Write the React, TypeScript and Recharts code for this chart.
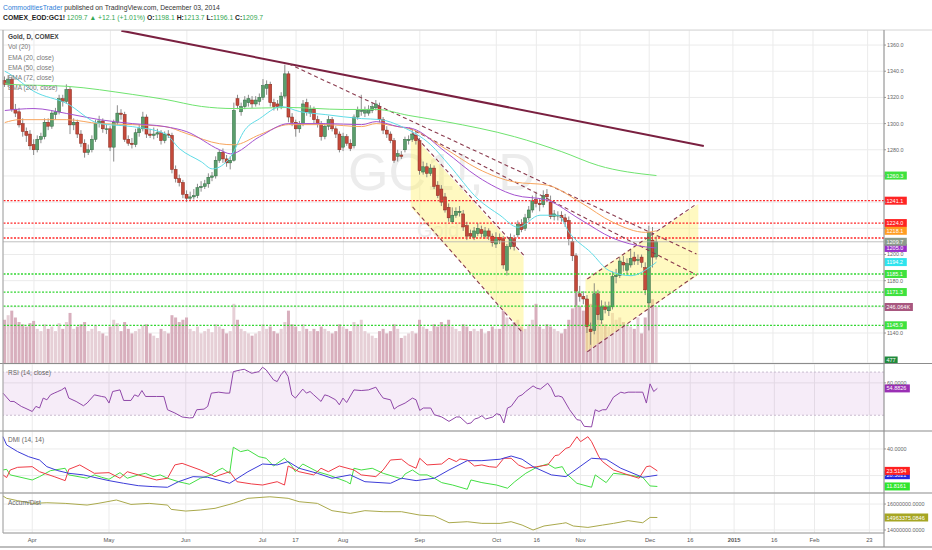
import React from 'react'
import {
  ComposedChart,
  Bar,
  Line,
  XAxis,
  YAxis,
  CartesianGrid,
  ReferenceLine,
  ReferenceArea,
  Cell,
} from 'recharts'

const FONT = '"Liberation Sans", Arial, sans-serif'
const W = 932
const SLOTS = 242
const PRICE_DOMAIN: [number, number] = [1117.1, 1371.5]
const VOL_DOMAIN: [number, number] = [0, 1463]

// daily candles, Mar 20 2014 .. Dec 3 2014
const opens = [
  1333, 1330, 1334, 1311, 1309, 1300, 1294, 1292, 1284, 1280,
  1288, 1290, 1301, 1298, 1307, 1309, 1319, 1317, 1326, 1299,
  1301, 1292, 1285, 1278, 1280, 1288, 1300, 1302, 1296, 1296,
  1282, 1301, 1308, 1307, 1288, 1285, 1284, 1293, 1296, 1305,
  1292, 1291, 1292, 1293, 1287, 1292, 1291, 1265, 1258, 1255,
  1246, 1243, 1244, 1245, 1251, 1252, 1254, 1259, 1260, 1272,
  1278, 1273, 1270, 1272, 1319, 1309, 1313, 1316, 1318, 1315,
  1317, 1320, 1327, 1330, 1316, 1315, 1313, 1321, 1338, 1305,
  1301, 1296, 1300, 1316, 1308, 1311, 1303, 1300, 1290, 1298,
  1303, 1296, 1292, 1282, 1290, 1285, 1283, 1305, 1310, 1308,
  1308, 1310, 1312, 1313, 1303, 1295, 1292, 1287, 1275, 1276,
  1280, 1287, 1288, 1291, 1287, 1263, 1267, 1262, 1266, 1253,
  1250, 1244, 1236, 1225, 1230, 1232, 1231, 1222, 1216, 1213,
  1216, 1219, 1214, 1218, 1214, 1208, 1213, 1212, 1188, 1206,
  1212, 1215, 1223, 1220, 1228, 1234, 1242, 1239, 1238, 1246,
  1240, 1229, 1230, 1230, 1228, 1226, 1210, 1199, 1170, 1168,
  1166, 1143, 1142, 1170, 1150, 1160, 1157, 1160, 1183, 1184,
  1194, 1188, 1192, 1198, 1196, 1198, 1190, 1163, 1211, 1198.1,
]
const highs = [
  1336, 1337, 1336, 1315, 1312, 1304, 1297, 1295, 1288, 1291,
  1293, 1304, 1304, 1310, 1312, 1322, 1322, 1330, 1328, 1304,
  1303, 1295, 1288, 1284, 1291, 1303, 1306, 1304, 1299, 1298,
  1303, 1314, 1311, 1309, 1291, 1289, 1296, 1299, 1309, 1307,
  1296, 1297, 1296, 1295, 1294, 1295, 1293, 1268, 1261, 1257,
  1249, 1248, 1250, 1254, 1256, 1257, 1262, 1263, 1275, 1280,
  1281, 1276, 1275, 1316, 1322, 1316, 1321, 1322, 1321, 1321,
  1323, 1334, 1333, 1332, 1319, 1318, 1324, 1345, 1340, 1308,
  1303, 1302, 1318, 1319, 1314, 1313, 1306, 1302, 1300, 1306,
  1305, 1298, 1294, 1293, 1292, 1288, 1307, 1313, 1322, 1313,
  1314, 1316, 1318, 1316, 1305, 1298, 1294, 1289, 1280, 1279,
  1290, 1291, 1296, 1294, 1289, 1271, 1270, 1269, 1268, 1256,
  1253, 1247, 1239, 1236, 1236, 1237, 1234, 1225, 1219, 1221,
  1224, 1222, 1221, 1220, 1216, 1217, 1216, 1214, 1208, 1216,
  1215, 1226, 1227, 1231, 1237, 1245, 1248, 1243, 1249, 1250,
  1245, 1234, 1233, 1233, 1231, 1229, 1213, 1201, 1176, 1172,
  1169, 1148, 1178, 1173, 1165, 1164, 1164, 1187, 1189, 1198,
  1199, 1197, 1204, 1202, 1200, 1200, 1194, 1222, 1221, 1213.7,
]
const lows = [
  1328, 1328, 1309, 1305, 1297, 1290, 1286, 1280, 1276, 1278,
  1285, 1288, 1295, 1296, 1303, 1307, 1313, 1315, 1292, 1295,
  1289, 1282, 1274, 1276, 1278, 1286, 1297, 1293, 1292, 1279,
  1271, 1299, 1303, 1286, 1283, 1281, 1282, 1290, 1294, 1289,
  1289, 1288, 1289, 1284, 1285, 1289, 1262, 1255, 1252, 1243,
  1240, 1241, 1242, 1243, 1248, 1250, 1251, 1256, 1258, 1270,
  1270, 1267, 1265, 1271, 1311, 1306, 1311, 1313, 1312, 1313,
  1314, 1318, 1322, 1313, 1310, 1310, 1311, 1319, 1301, 1298,
  1290, 1293, 1298, 1306, 1305, 1300, 1297, 1287, 1288, 1295,
  1294, 1289, 1278, 1279, 1283, 1279, 1281, 1303, 1306, 1305,
  1306, 1308, 1310, 1301, 1292, 1289, 1285, 1270, 1271, 1273,
  1278, 1284, 1286, 1284, 1261, 1261, 1259, 1260, 1250, 1243,
  1237, 1232, 1225, 1224, 1228, 1229, 1218, 1211, 1212, 1211,
  1214, 1213, 1212, 1211, 1206, 1205, 1208, 1189, 1184, 1204,
  1203, 1213, 1217, 1218, 1226, 1232, 1236, 1233, 1236, 1240,
  1227, 1226, 1226, 1225, 1221, 1207, 1195, 1161, 1164, 1162,
  1140, 1131, 1139, 1150, 1147, 1155, 1153, 1158, 1178, 1182,
  1187, 1185, 1190, 1192, 1192, 1190, 1169, 1142, 1190, 1196.1,
]
const closes = [
  1330, 1334, 1311, 1308, 1299, 1294, 1291, 1283, 1280, 1288,
  1290, 1301, 1298, 1308, 1309, 1319, 1317, 1326, 1299, 1301,
  1292, 1285, 1278, 1280, 1288, 1300, 1302, 1296, 1296, 1282,
  1301, 1308, 1307, 1288, 1285, 1284, 1293, 1296, 1305, 1292,
  1291, 1292, 1293, 1287, 1292, 1291, 1265, 1258, 1255, 1246,
  1243, 1244, 1245, 1251, 1252, 1254, 1259, 1260, 1272, 1278,
  1273, 1270, 1272, 1310, 1314, 1313, 1318, 1319, 1315, 1318,
  1320, 1329, 1330, 1316, 1313, 1313, 1321, 1338, 1305, 1301,
  1296, 1300, 1315, 1309, 1311, 1303, 1300, 1290, 1298, 1303,
  1296, 1292, 1280, 1290, 1285, 1281, 1305, 1310, 1310, 1310,
  1311, 1313, 1315, 1303, 1295, 1292, 1287, 1272, 1277, 1275,
  1288, 1288, 1292, 1287, 1264, 1267, 1262, 1266, 1252, 1245,
  1240, 1234, 1228, 1230, 1233, 1233, 1221, 1214, 1214, 1218,
  1220, 1216, 1218, 1214, 1209, 1213, 1211, 1192, 1206, 1213,
  1206, 1223, 1219, 1228, 1234, 1241, 1239, 1238, 1245, 1244,
  1229, 1231, 1230, 1228, 1225, 1212, 1199, 1172, 1168, 1166,
  1145, 1141, 1170, 1154, 1160, 1158, 1160, 1183, 1184, 1195,
  1192, 1193, 1197, 1195, 1196, 1194, 1173, 1217, 1198, 1209.7,
]
// volume, thousands of contracts
const volumes = [
  190, 210, 230, 200, 180, 170, 160, 175, 185, 150,
  140, 170, 150, 160, 140, 175, 150, 180, 220, 150,
  160, 170, 180, 140, 150, 165, 140, 130, 120, 160,
  190, 175, 140, 180, 150, 130, 140, 150, 165, 170,
  130, 120, 110, 150, 140, 130, 210, 200, 180, 190,
  200, 150, 140, 160, 130, 140, 150, 135, 170, 160,
  150, 130, 140, 260, 190, 150, 140, 130, 120, 130,
  140, 170, 150, 160, 140, 130, 150, 180, 230, 170,
  160, 140, 170, 150, 140, 150, 140, 160, 150, 140,
  130, 140, 170, 160, 150, 140, 180, 170, 190, 140,
  130, 120, 110, 140, 150, 130, 140, 170, 150, 110,
  120, 130, 140, 130, 190, 160, 150, 140, 170, 160,
  180, 170, 190, 160, 150, 140, 170, 160, 140, 150,
  140, 150, 130, 140, 160, 150, 150, 230, 200, 170,
  180, 190, 160, 150, 170, 190, 260, 160, 150, 170,
  160, 150, 140, 130, 150, 190, 240, 310, 250, 230,
  280, 260, 300, 220, 180, 170, 160, 220, 190, 200,
  180, 170, 160, 150, 200, 130, 200, 360, 280, 246.064,
]

// indicator readings: [bar index, value]
const ema20Pts: [number, number][] = [
  [0, 1340], [1, 1338.5], [8, 1324.6], [17, 1315.4], [26, 1300], [35, 1297.7], [44, 1292.3],
  [48, 1280.8], [54, 1270.8], [57, 1265.4], [62, 1274.6], [66, 1295.4], [70, 1303.8], [76, 1313],
  [81, 1309.2], [88, 1306.9], [98, 1303.8], [103, 1303.1], [109, 1297.7], [117, 1283.8],
  [122, 1268.5], [130, 1242.3], [136, 1230], [141, 1220.8], [147, 1230], [152, 1230],
  [155, 1216.9], [161, 1201.5], [166, 1187.7], [172, 1183.8], [177, 1190], [179, 1194.2],
]
const ema50Pts: [number, number][] = [
  [0, 1310], [8, 1311.5], [17, 1307.7], [26, 1303], [35, 1300], [44, 1297.7], [50, 1293.8],
  [59, 1280], [62, 1276.9], [70, 1290], [78, 1300], [88, 1300], [98, 1299.2], [102, 1301.5],
  [108, 1297.7], [112, 1296.2], [121, 1278.5], [130, 1259.2], [140, 1245.4], [149, 1241.5],
  [158, 1226.9], [167, 1212.5], [176, 1205.8], [179, 1205],
]
const ema72Pts: [number, number][] = [
  [0, 1300.8], [4, 1303], [17, 1303], [26, 1300], [35, 1299.2], [44, 1297.7], [50, 1292.3],
  [59, 1284.6], [63, 1283.8], [70, 1291.5], [78, 1299.2], [88, 1299.2], [98, 1297.7], [102, 1300],
  [108, 1297.7], [112, 1295.4], [121, 1280.8], [130, 1265.4], [140, 1255.4], [149, 1253],
  [158, 1240], [167, 1224.6], [176, 1216.9], [179, 1218.1],
]
const ema200Pts: [number, number][] = [
  [0, 1331], [1, 1330], [17, 1328.5], [35, 1322.3], [44, 1318.5], [54, 1313.1], [63, 1311.5],
  [78, 1312.3], [93, 1310.8], [102, 1310.8], [111, 1306.2], [121, 1301.5], [140, 1290],
  [153, 1278.5], [163, 1268], [179, 1260.3],
]
const rsiPts: [number, number][] = [
  [0, 50.5], [2, 42.8], [3, 42.8], [5, 38.2], [6, 36.7], [8, 33.5], [9, 38.2], [10, 36.7], [11, 45.9],
  [12, 44.3], [13, 48.9], [14, 50.5], [15, 52], [16, 53.5], [17, 55.7], [18, 45.9], [20, 42.8],
  [22, 38.8], [23, 41.3], [25, 48.9], [27, 47.4], [28, 46.8], [29, 41.3], [30, 52], [32, 53.5],
  [33, 43.7], [35, 43.7], [36, 48.9], [37, 47.4], [38, 52.9], [39, 47.4], [42, 47.4], [44, 47.4],
  [45, 35.1], [47, 32.1], [49, 28.4], [51, 27.5], [52, 27.8], [53, 35.1], [55, 35.7], [56, 38.2],
  [57, 50.5], [59, 51.4], [61, 50.5], [62, 50.5], [63, 70.4], [65, 72], [66, 72.6], [68, 68.9],
  [70, 70.4], [71, 74.5], [72, 72], [74, 62.8], [75, 61.2], [76, 67.4], [77, 71.3], [78, 65.8],
  [79, 48.9], [80, 45.9], [82, 54.2], [83, 50.5], [84, 52], [85, 48.9], [87, 42.8], [88, 48.9],
  [89, 47.9], [91, 44.3], [92, 39.7], [93, 45.9], [94, 41.8], [96, 53.5], [98, 52.9], [100, 53.5],
  [102, 56], [103, 50.5], [104, 45.9], [106, 44.3], [107, 35.7], [108, 38.2], [110, 41.3],
  [112, 45.9], [113, 44.3], [114, 34.5], [115, 36.7], [117, 36.7], [118, 30.5], [120, 28.4],
  [122, 24.3], [124, 28.4], [125, 28.4], [127, 22.2], [128, 22.8], [129, 26.5], [130, 27.5],
  [131, 29.6], [132, 26.5], [134, 28.4], [135, 31.4], [136, 30.5], [137, 22.8], [138, 36.7],
  [139, 38.2], [141, 47.4], [142, 48.9], [143, 52], [145, 57.2], [146, 55.1], [147, 54.2],
  [149, 59.7], [150, 55.1], [151, 47.4], [152, 47.9], [153, 46.8], [155, 35.1], [157, 25.9],
  [158, 25.3], [159, 19.7], [161, 19.2], [162, 35.1], [163, 33.5], [164, 35.1], [165, 35.1],
  [167, 46.8], [169, 51.4], [170, 50.5], [171, 51.4], [173, 51.4], [175, 51.4], [176, 41.3],
  [177, 59.1], [178, 52], [179, 54.88],
]
const adxPts: [number, number][] = [
  [0, 49.2], [1, 43], [4, 38], [7, 34.2], [10, 31.7], [12, 26.7], [15, 23.7], [18, 21.7], [22, 20.5],
  [26, 18], [29, 16.2], [33, 14.2], [37, 12.4], [41, 11.7], [45, 11.2], [48, 15.4], [52, 19.2],
  [56, 18.7], [62, 14.2], [67, 22.9], [71, 28.7], [75, 28], [78, 30.5], [81, 25.5], [86, 21.7],
  [90, 18], [95, 20.5], [99, 15.4], [106, 14.2], [109, 18], [113, 16.2], [118, 18], [122, 24.2],
  [127, 31.2], [131, 31.2], [136, 32.3], [139, 34.7], [142, 32.3], [145, 26.7], [150, 20.5],
  [154, 19.2], [161, 33], [165, 32.3], [169, 25.5], [175, 18.7], [179, 20.3],
]
const diMinusPts: [number, number][] = [
  [0, 20.5], [1, 18.5], [2, 24.2], [4, 26.2], [8, 26.7], [10, 22.9], [14, 19.2], [17, 16.2],
  [18, 24.7], [21, 28], [25, 21.7], [29, 22.2], [32, 18], [34, 22.9], [37, 20.5], [42, 16.7],
  [45, 18], [47, 28], [49, 29.2], [54, 24.2], [58, 19.2], [62, 22.9], [64, 15.4], [68, 13.7],
  [71, 12.9], [75, 15.4], [77, 12.9], [78, 27.2], [81, 22.9], [85, 20.5], [87, 25.5], [89, 22.9],
  [92, 27.2], [96, 24.2], [98, 20.5], [102, 19.2], [104, 24.2], [106, 31.7], [109, 32.3], [111, 28],
  [113, 25.5], [114, 33], [116, 28], [120, 28.7], [122, 33], [124, 30.5], [125, 32.5], [127, 31.7],
  [129, 27.2], [131, 28], [133, 26.7], [135, 26.2], [137, 33], [139, 33], [141, 28], [143, 25.5],
  [146, 26.7], [149, 28], [151, 35], [152, 35.5], [154, 40.5], [155, 41.3], [157, 49.2], [158, 45.5],
  [160, 49.2], [161, 45.5], [163, 34.2], [164, 30.5], [167, 24.2], [171, 20.5], [174, 18],
  [176, 26.7], [177, 27.2], [179, 23.52],
]
const diPlusPts: [number, number][] = [
  [0, 24.2], [1, 24.7], [2, 20.5], [8, 16.7], [10, 19.2], [13, 23.7], [17, 25.5], [18, 20.5],
  [23, 18], [25, 20.5], [27, 18.7], [29, 17.2], [32, 22.2], [34, 18], [37, 20.5], [39, 21.7],
  [41, 19.2], [43, 20.5], [45, 18], [48, 15.4], [51, 13.5], [54, 18], [57, 20.5], [59, 24.2],
  [60, 25.5], [62, 21.7], [63, 41.3], [65, 38], [67, 39.2], [70, 34.2], [72, 33], [74, 27.2],
  [77, 33], [79, 27.2], [80, 22.9], [82, 28.7], [86, 22.9], [89, 20.5], [94, 15.4], [95, 13.7],
  [96, 25.5], [98, 24.2], [101, 25.5], [104, 21.7], [107, 19.2], [109, 17.5], [110, 21.2],
  [112, 24.2], [114, 20.5], [116, 20.5], [118, 18], [120, 14.7], [123, 12.9], [127, 9.7],
  [128, 16.7], [131, 14.7], [135, 12.9], [138, 10.5], [140, 15.4], [143, 21.7], [146, 26.2],
  [149, 28.7], [151, 25.5], [153, 26.7], [154, 21.7], [157, 14.2], [161, 11.2], [162, 20.5],
  [165, 14.7], [167, 21.7], [171, 20.5], [175, 18.7], [177, 12.2], [179, 11.82],
]
// accumulation / distribution, millions
const adPts: [number, number][] = [
  [0, 16.62], [1, 16.44], [4, 16.26], [8, 16.05], [12, 16.1], [17, 16.05], [23, 15.92], [26, 16.05],
  [31, 16.31], [35, 15.97], [40, 16.05], [45, 15.92], [46, 15.59], [50, 15.46], [54, 15.54],
  [58, 15.67], [63, 16.05], [67, 16.44], [73, 16.56], [78, 16.44], [81, 16.18], [86, 16.05],
  [90, 15.49], [95, 15.28], [99, 15.49], [104, 15.41], [109, 15.41], [114, 15.15], [118, 15.08],
  [122, 14.56], [127, 14.64], [131, 14.51], [136, 14.51], [139, 14.64], [142, 14.38], [145, 14.0],
  [148, 14.31], [153, 14.51], [154, 14.56], [156, 14.31], [160, 14.2], [164, 14.38], [167, 14.51],
  [171, 14.72], [175, 14.56], [177, 14.97], [179, 14.963],
]

const tickIdx = [8, 29, 50, 71, 80, 93, 114, 135, 146, 158, 177, 188, 200, 211, 222, 237]
const tickText = ['Apr', 'May', 'Jun', 'Jul', '17', 'Aug', 'Sep', 'Oct', '16', 'Nov', 'Dec', '16', '2015', '16', 'Feb', '23']

const priceTicks = [1120, 1140, 1160, 1180, 1200, 1220, 1240, 1260, 1280, 1300, 1320, 1340, 1360]
const hiddenPriceTicks = [1120, 1160, 1220, 1240, 1260]

const redLevels = [1241.1, 1224.0, 1212.6]
const greenLevels = [1185.1, 1171.3, 1160.6, 1145.9]
const lastPrice = 1209.7

const trendLines = [
  { a: [32, 1371], b: [192, 1282.9], solid: true },
  { a: [78, 1345.6], b: [190, 1200.4] },
  { a: [111, 1296.7], b: [190, 1184.4] },
  { a: [112, 1292.8], b: [143, 1198.1] },
  { a: [112, 1236.3], b: [142, 1140.8] },
  { a: [160, 1181.3], b: [190, 1238.6] },
  { a: [160, 1125.6], b: [190, 1184.4] },
]
// channels: start bar, end bar, [top, bottom] at start, [top, bottom] at end
const channels = [
  { x1: 112, x2: 142, left: [1292.8, 1236.3], right: [1198.1, 1140.8] },
  { x1: 160, x2: 190, left: [1181.3, 1125.6], right: [1238.6, 1184.4] },
]

const priceTags = [
  { y: 1260.3, text: '1260.3', bg: '#3ee23e' },
  { y: 1241.1, text: '1241.1', bg: '#ff2424' },
  { y: 1224.0, text: '1224.0', bg: '#ff2424' },
  { y: 1218.1, text: '1218.1', bg: '#ff9c22' },
  { y: 1205.0, text: '1205.0', bg: '#9a2fc8' },
  { y: 1209.7, text: '1209.7', bg: '#8c9c8c' },
  { y: 1194.2, text: '1194.2', bg: '#2ee4ee' },
  { y: 1185.1, text: '1185.1', bg: '#3ee23e' },
  { y: 1171.3, text: '1171.3', bg: '#3ee23e' },
  { y: 1145.9, text: '1145.9', bg: '#3ee23e' },
]

type Row = { i: number; [k: string]: number | undefined }
const rows: Row[] = Array.from({ length: SLOTS }, (_, i) => ({ i }))
closes.forEach((c, i) => {
  Object.assign(rows[i], { o: opens[i], h: highs[i], l: lows[i], c, v: volumes[i] })
})
function put(key: string, pts: [number, number][]) {
  pts.forEach(([i, v]) => {
    rows[i][key] = v
  })
}
put('e20', ema20Pts)
put('e50', ema50Pts)
put('e72', ema72Pts)
put('e200', ema200Pts)
put('rsi', rsiPts)
put('adx', adxPts)
put('dim', diMinusPts)
put('dip', diPlusPts)
put('ad', adPts)

function Candle(props: any) {
  const { x, y, width, height, payload } = props
  if (!payload || payload.c == null) return null
  const { o, h, l, c } = payload
  const top = Math.min(y, y + height)
  const bottom = Math.max(y, y + height)
  const k = (bottom - top) / (h - l)
  const yo = top + (h - o) * k
  const yc = top + (h - c) * k
  const up = c >= o
  const cx = x + width / 2
  return (
    <g>
      <line x1={cx} x2={cx} y1={top} y2={bottom} stroke="#6e6e6e" strokeWidth={0.8} />
      <rect
        x={x}
        y={Math.min(yo, yc)}
        width={width}
        height={Math.max(0.8, Math.abs(yo - yc))}
        fill={up ? '#5b9e6c' : '#c4493a'}
        stroke={up ? '#2f6a40' : '#86281d'}
        strokeWidth={0.5}
      />
    </g>
  )
}

function Tag(props: any) {
  const { viewBox, text, bg, color = '#fff' } = props
  if (!viewBox) return null
  const x = viewBox.x + viewBox.width + 0.5
  const y = viewBox.y
  const w = text.length * 3.05 + 4
  return (
    <g>
      <rect x={x} y={y - 4} width={w} height={8} fill={bg} />
      <text x={x + 2} y={y + 2} fontSize={5.5} fill={color} fontFamily={FONT}>
        {text}
      </text>
    </g>
  )
}

function YTick(props: any) {
  const { x, y, payload, hidden = [], fmt } = props
  if (hidden.includes(payload.value)) return null
  return (
    <text x={x} y={y + 2} fontSize={5.4} fill="#666" fontFamily={FONT}>
      {fmt(payload.value)}
    </text>
  )
}

function DateTick(props: any) {
  const { x, y, payload } = props
  const text = tickText[tickIdx.indexOf(payload.value)]
  return (
    <text
      x={x}
      y={y + 9}
      textAnchor="middle"
      fontSize={5.8}
      fill="#555"
      fontWeight={text === '2015' ? 700 : 400}
      fontFamily={FONT}
    >
      {text}
    </text>
  )
}

function channelShape(ch: (typeof channels)[number]) {
  return (props: any) => {
    const { x, y, width, height } = props
    const max = Math.max(...ch.left, ...ch.right)
    const min = Math.min(...ch.left, ...ch.right)
    const py = (p: number) => y + ((max - p) / (max - min)) * height
    const pts = [
      [x, py(ch.left[0])],
      [x + width, py(ch.right[0])],
      [x + width, py(ch.right[1])],
      [x, py(ch.left[1])],
    ]
    return <polygon points={pts.map((p) => p.join(',')).join(' ')} fill="#fff176" fillOpacity={0.45} />
  }
}

const grid = <CartesianGrid stroke="#ebebeb" />
const hiddenX = <XAxis dataKey="i" hide ticks={tickIdx} interval={0} />
const margin = { top: 0, right: 0, bottom: 0, left: 3 }

function VolumeLayer() {
  return (
    <ComposedChart width={W} height={333} data={rows} margin={{ ...margin, right: 48 }}>
      <CartesianGrid stroke="#ebebeb" />
      {hiddenX}
      <YAxis hide domain={PRICE_DOMAIN} ticks={priceTicks} allowDataOverflow />
      <YAxis yAxisId="vol" hide domain={VOL_DOMAIN} allowDataOverflow />
      <Bar yAxisId="vol" dataKey="v" barSize={3} isAnimationActive={false}>
        {rows.map((r) => (
          <Cell key={r.i} fill={(r.c ?? 0) >= (r.o ?? 0) ? '#e6cfd6' : '#d8afbd'} />
        ))}
      </Bar>
    </ComposedChart>
  )
}

function PriceLayer() {
  return (
    <ComposedChart width={W} height={333} data={rows} margin={margin}>
      <XAxis dataKey="i" hide />
      <YAxis
        orientation="right"
        width={48}
        domain={PRICE_DOMAIN}
        ticks={priceTicks}
        allowDataOverflow
        tickSize={2}
        tickMargin={1}
        tickLine={{ stroke: '#999' }}
        axisLine={false}
        tick={<YTick hidden={hiddenPriceTicks} fmt={(v: number) => v.toFixed(1)} />}
      />
      <YAxis yAxisId="vol" hide domain={VOL_DOMAIN} allowDataOverflow />
      {channels.map((ch, k) => (
        <ReferenceArea
          key={'ch' + k}
          x1={ch.x1}
          x2={ch.x2}
          y1={Math.min(...ch.left, ...ch.right)}
          y2={Math.max(...ch.left, ...ch.right)}
          shape={channelShape(ch)}
        />
      ))}
      {redLevels.map((y) => (
        <ReferenceLine key={'r' + y} y={y} stroke="#ff2a2a" strokeWidth={1.3} strokeDasharray="2 1.5" />
      ))}
      {greenLevels.map((y) => (
        <ReferenceLine key={'g' + y} y={y} stroke="#33d633" strokeWidth={1.3} strokeDasharray="2 1.5" />
      ))}
      <ReferenceLine y={lastPrice} stroke="#b0b0b0" strokeWidth={0.8} />
      {trendLines.map((t, k) => (
        <ReferenceLine
          key={'t' + k}
          segment={[
            { x: t.a[0], y: t.a[1] },
            { x: t.b[0], y: t.b[1] },
          ]}
          stroke={t.solid ? '#7a2040' : '#8a3b4e'}
          strokeWidth={t.solid ? 2 : 1.1}
          strokeDasharray={t.solid ? undefined : '4 3'}
          ifOverflow="visible"
        />
      ))}
      <Bar dataKey={(d: any) => (d.c == null ? undefined : [d.l, d.h])} barSize={3} isAnimationActive={false} shape={(p: any) => <Candle {...p} />} />
      <Line dataKey="e200" stroke="#6fe36f" strokeWidth={1} dot={false} connectNulls type="monotone" isAnimationActive={false} />
      <Line dataKey="e72" stroke="#f7a55e" strokeWidth={1} dot={false} connectNulls type="monotone" isAnimationActive={false} />
      <Line dataKey="e50" stroke="#a452cf" strokeWidth={1} dot={false} connectNulls type="monotone" isAnimationActive={false} />
      <Line dataKey="e20" stroke="#5fdbe6" strokeWidth={1} dot={false} connectNulls type="monotone" isAnimationActive={false} />
      {priceTags.map((t) => (
        <ReferenceLine key={'tag' + t.text} y={t.y} stroke="none" label={<Tag text={t.text} bg={t.bg} />} />
      ))}
      <ReferenceLine yAxisId="vol" y={246.064} stroke="none" label={<Tag text="246.064K" bg="#a8577f" />} />
      <ReferenceLine yAxisId="vol" y={11} stroke="none" label={<Tag text="477" bg="#1f8a3c" />} />
    </ComposedChart>
  )
}

function RsiPanel() {
  return (
    <ComposedChart width={W} height={67} data={rows} margin={margin}>
      {grid}
      {hiddenX}
      <YAxis
        orientation="right"
        width={48}
        domain={[15.4, 77.5]}
        ticks={[20, 40, 60]}
        allowDataOverflow
        tickSize={2}
        tickMargin={1}
        tickLine={{ stroke: '#999' }}
        axisLine={false}
        tick={<YTick fmt={(v: number) => v.toFixed(4)} />}
      />
      <ReferenceArea y1={30} y2={70} fill="#9c27b0" fillOpacity={0.09} />
      <ReferenceLine y={70} stroke="#c9bccf" strokeDasharray="2 2" />
      <ReferenceLine y={30} stroke="#c9bccf" strokeDasharray="2 2" />
      <Line dataKey="rsi" stroke="#8f47a8" strokeWidth={1} dot={false} connectNulls type="linear" isAnimationActive={false} />
      <ReferenceLine y={54.8826} stroke="none" label={<Tag text="54.8826" bg="#9a2fb4" />} />
    </ComposedChart>
  )
}

function DmiPanel() {
  return (
    <ComposedChart width={W} height={62} data={rows} margin={margin}>
      {grid}
      {hiddenX}
      <YAxis
        orientation="right"
        width={48}
        domain={[6.9, 53.5]}
        ticks={[20, 40]}
        allowDataOverflow
        tickSize={2}
        tickMargin={1}
        tickLine={{ stroke: '#999' }}
        axisLine={false}
        tick={<YTick hidden={[20]} fmt={(v: number) => v.toFixed(4)} />}
      />
      <Line dataKey="dip" stroke="#44de44" strokeWidth={1} dot={false} connectNulls type="linear" isAnimationActive={false} />
      <Line dataKey="dim" stroke="#ef3b45" strokeWidth={1} dot={false} connectNulls type="linear" isAnimationActive={false} />
      <Line dataKey="adx" stroke="#3c3cd8" strokeWidth={1} dot={false} connectNulls type="linear" isAnimationActive={false} />
      <ReferenceLine y={20.3} stroke="none" label={<Tag text="20.3021" bg="#2626e0" />} />
      <ReferenceLine y={23.5194} stroke="none" label={<Tag text="23.5194" bg="#ff2020" />} />
      <ReferenceLine y={11.8161} stroke="none" label={<Tag text="11.8161" bg="#2ee62e" />} />
    </ComposedChart>
  )
}

function AdPanel() {
  return (
    <ComposedChart width={W} height={54} data={rows} margin={margin}>
      {grid}
      <XAxis
        dataKey="i"
        ticks={tickIdx}
        interval={0}
        height={14}
        axisLine={false}
        tickLine={false}
        tickSize={0}
        tickMargin={0}
        tick={<DateTick />}
      />
      <YAxis
        orientation="right"
        width={48}
        domain={[13.77, 16.85]}
        ticks={[14, 16]}
        allowDataOverflow
        tickSize={2}
        tickMargin={1}
        tickLine={{ stroke: '#999' }}
        axisLine={false}
        tick={<YTick fmt={(v: number) => (v * 1e6).toFixed(4)} />}
      />
      <Line dataKey="ad" stroke="#aaa94c" strokeWidth={1} dot={false} connectNulls type="linear" isAnimationActive={false} />
      <ReferenceLine y={14.963375} stroke="none" label={<Tag text="14963375.0846" bg="#a6a623" />} />
    </ComposedChart>
  )
}

const legendMain = ['Gold, D, COMEX', 'Vol (20)', 'EMA (20, close)', 'EMA (50, close)', 'EMA (72, close)', 'EMA (200, close)']
const green = '#34a853'

export default function App() {
  const abs = (top: number): React.CSSProperties => ({ position: 'absolute', left: 0, top })
  return (
    <div style={{ position: 'absolute', left: 0, top: 0, width: W, height: 550, background: '#fff', overflow: 'hidden', fontFamily: FONT }}>
      <div style={{ position: 'absolute', left: 3, top: 3, fontSize: 6.8, lineHeight: '10px', color: '#333', whiteSpace: 'nowrap' }}>
        <span style={{ color: '#2f7ed8' }}>CommoditiesTrader</span> published on TradingView.com, December 03, 2014
      </div>
      <div style={{ position: 'absolute', left: 3, top: 13, fontSize: 6.8, lineHeight: '10px', color: '#222', whiteSpace: 'nowrap' }}>
        <b>COMEX_EOD:GC1!</b> <span style={{ color: green }}>1209.7 ▲ +12.1 (+1.01%)</span> <b>O:</b>
        <span style={{ color: green }}>1198.1</span> <b>H:</b>
        <span style={{ color: green }}>1213.7</span> <b>L:</b>
        <span style={{ color: green }}>1196.1</span> <b>C:</b>
        <span style={{ color: green }}>1209.7</span>
      </div>

      <svg width={W} height={550} style={{ position: 'absolute', left: 0, top: 0 }}>
        <text x={348} y={190} fontSize={52} fill="#ececec" fontFamily={FONT}>
          GC1!, D
        </text>
        <text x={417} y={237} fontSize={20} fill="#ececec" fontFamily={FONT}>
          Gold
        </text>
      </svg>

      <div style={abs(30)}>
        <VolumeLayer />
      </div>
      <div style={abs(30)}>
        <PriceLayer />
      </div>
      <div style={abs(364)}>
        <RsiPanel />
      </div>
      <div style={abs(431)}>
        <DmiPanel />
      </div>
      <div style={abs(493)}>
        <AdPanel />
      </div>

      <div style={{ position: 'absolute', left: 8, top: 32, fontSize: 6.5, lineHeight: '10.3px', color: '#777', whiteSpace: 'nowrap' }}>
        {legendMain.map((t, k) => (
          <div key={t} style={k === 0 ? { color: '#444', fontWeight: 700 } : undefined}>
            {t}
          </div>
        ))}
      </div>
      <div style={{ position: 'absolute', left: 8, top: 369, fontSize: 6.5, color: '#666' }}>RSI (14, close)</div>
      <div style={{ position: 'absolute', left: 8, top: 436, fontSize: 6.5, color: '#666' }}>DMI (14, 14)</div>
      <div style={{ position: 'absolute', left: 8, top: 499, fontSize: 6.5, color: '#666' }}>Accum/Dist</div>

      <svg width={W} height={550} style={{ position: 'absolute', left: 0, top: 0, pointerEvents: 'none' }}>
        <line x1={0} x2={W} y1={30} y2={30} stroke="#d4d4d4" strokeWidth={1} />
        <line x1={0} x2={W} y1={363.5} y2={363.5} stroke="#8c8c8c" strokeWidth={1.2} />
        <line x1={0} x2={W} y1={431} y2={431} stroke="#8c8c8c" strokeWidth={1.2} />
        <line x1={0} x2={W} y1={493} y2={493} stroke="#8c8c8c" strokeWidth={1.2} />
        <line x1={3} x2={884} y1={533} y2={533} stroke="#999" strokeWidth={1} />
        <line x1={0} x2={W} y1={547} y2={547} stroke="#bdbdbd" strokeWidth={2} />
        <line x1={884} x2={884} y1={30} y2={547} stroke="#8c8c8c" strokeWidth={1} />
        <line x1={3} x2={3} y1={30} y2={533} stroke="#a0a0a0" strokeWidth={1} />
      </svg>
    </div>
  )
}
